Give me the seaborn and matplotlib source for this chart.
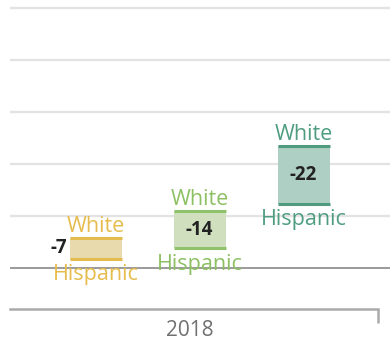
import matplotlib
matplotlib.use("Agg")
import matplotlib.pyplot as plt
import pandas as pd
import seaborn as sns

# gap between groups, 2018
groups = ["a", "b", "c"]
white = [11.5, 22.0, 47.0]
hispanic = [3.5, 7.5, 24.5]
gap_labels = ["-7", "-14", "-22"]
year_label = "2018"

fill_colors = ["#f2dfa2", "#d0e5ba", "#a9d4c4"]
line_colors = ["#e3bb4e", "#8fc26a", "#4f9b80"]
text_colors = ["#e6bc4e", "#8dc063", "#4f9d80"]

df = pd.DataFrame({"group": groups,
                   "span": [w - h for w, h in zip(white, hispanic)]})

sns.set_style("white")
plt.rcParams["font.family"] = ["Open Sans", "DejaVu Sans"]

fig = plt.figure(figsize=(3.9, 3.47), dpi=100)
ax = fig.add_axes([10 / 390, 38 / 347, 380 / 390, 309 / 347])

sns.barplot(data=df, x="group", y="span", hue="group", palette=fill_colors,
            width=0.5, legend=False, ax=ax, linewidth=0)

# lift each bar so it floats between hispanic and white
for i, p in enumerate(ax.patches):
    p.set_y(hispanic[i])

for i in range(len(groups)):
    ax.hlines([white[i], hispanic[i]], i - 0.25, i + 0.25,
              color=line_colors[i], lw=2.2, zorder=3)
    ax.text(i, white[i] + 2.3, "White", ha="center", va="baseline",
            color=text_colors[i], fontsize=15.5)
    ax.text(i, hispanic[i] - 2.0, "Hispanic", ha="center", va="top",
            color=text_colors[i], fontsize=15.5)
    mid = (white[i] + hispanic[i]) / 2
    if white[i] - hispanic[i] < 10:
        ax.text(i - 0.27, mid, gap_labels[i], ha="right", va="center",
                fontsize=13.5, fontweight="bold", color="#222222")
    else:
        ax.text(i, mid, gap_labels[i], ha="center", va="center",
                fontsize=13.5, fontweight="bold", color="#222222")

for yv in range(20, 101, 20):
    ax.axhline(yv, color="#e3e3e3", lw=1.6, zorder=0)
ax.axhline(0, color="#9a9a9a", lw=1.4, zorder=1)

ax.set_xlim(-0.822, 2.83)
ax.set_ylim(-15.8, 103.1)
ax.set_xlabel("")
ax.set_ylabel("")
ax.set_yticks([])
ax.set_xticks([0.91])
ax.set_xticklabels([year_label], color="#707070", fontsize=15)
ax.tick_params(axis="x", which="major", bottom=False, length=0, pad=8)
ax.set_xticks([2.71], minor=True)
ax.tick_params(axis="x", which="minor", bottom=True, length=10, width=1.8,
               color="#aaaaaa", direction="out")

for s in ["top", "left", "right"]:
    ax.spines[s].set_visible(False)
ax.spines["bottom"].set_bounds(-0.822, 2.71)
ax.spines["bottom"].set_color("#aaaaaa")
ax.spines["bottom"].set_linewidth(1.8)

fig.savefig("out.png", dpi=100)
